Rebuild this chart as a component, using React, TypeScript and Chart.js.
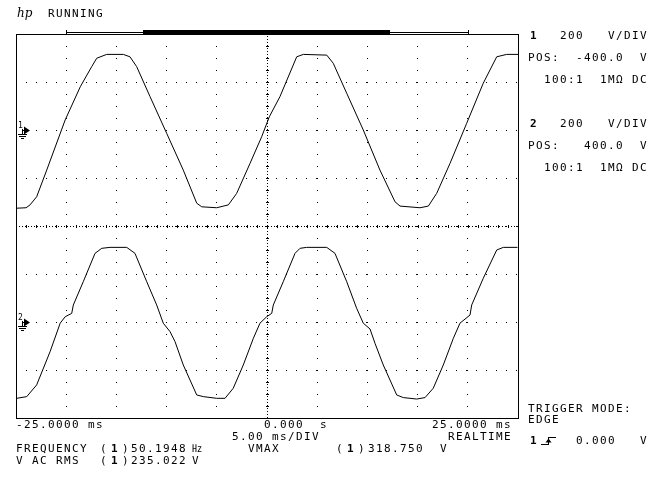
import React, { useEffect, useRef } from 'react';
import { Chart, registerables } from 'chart.js';

Chart.register(...registerables);

// ---- data (time in ms, voltage in V) ----
const ch1TimeMs = [
  -25.0, -24.0, -23.6, -22.94, -21.94, -20.1, -18.6, -17.46, -16.96, -15.97, -14.31, -13.65,
  -12.98, -11.65, -9.99, -8.34, -7.0, -6.5, -5.01, -3.85, -3.02, -1.69, -0.53, 0.23, 1.29,
  2.96, 3.62, 5.95, 6.6, 7.94, 9.59, 11.25, 12.75, 13.25, 15.24, 16.07, 16.9, 18.23, 19.89,
  21.54, 22.88, 23.87, 25.0,
];
const ch1Volts = [
  -326, -324, -312, -278, -167, 42, 180, 264, 299, 315, 315, 305,
  264, 139, -14, -167, -305, -320, -324, -312, -264, -139, -28, 55, 139,
  305, 315, 312, 278, 153, 0, -167, -299, -317, -324, -317, -264, -139, 28,
  195, 305, 315, 315,
];

const ch2TimeMs = [
  -24.93, -23.93, -22.94, -21.61, -20.6, -20.1, -19.45, -19.29, -18.3, -17.13, -16.46, -15.64,
  -13.97, -13.15, -11.98, -10.99, -10.33, -9.66, -9.16, -8.34, -7.0, -6.34, -5.01, -4.18,
  -3.36, -2.36, -1.36, -0.7, -0.03, 0.47, 0.63, 1.62, 2.79, 3.29, 3.95, 5.95, 6.77, 7.94,
  8.93, 9.59, 10.26, 10.76, 11.58, 12.92, 13.58, 14.91, 15.74, 16.56, 17.56, 18.56, 19.22,
  20.22, 20.39, 21.54, 22.88, 23.54, 24.95,
];
const ch2Volts = [
  -318, -311, -262, -124, -5, 22, 36, 71, 168, 286, 307, 311,
  311, 286, 168, 71, -5, -40, -82, -179, -304, -311, -318, -318,
  -276, -179, -68, -5, 22, 36, 71, 168, 286, 307, 311, 311, 286, 168,
  57, -5, -29, -89, -179, -304, -315, -321, -315, -276, -179, -68, -5,
  29, 71, 182, 300, 311, 311,
];

const timeRangeMs = [-25, 25];
const timeStepMs = 5;
const ch1Range = [-1200, 400];
const ch2Range = [-400, 1200];
const voltStep = 200;
const memoryBar = [-20, 20];
const memoryWindow = [-12.4, 12.25];

const timeLabels = ['-25.0000 ms', '0.000', 's', '25.0000 ms'];

const MONO = '"DejaVu Sans Mono", "Liberation Mono", monospace';
const CELL = 8;
const bx = (c: number) => 16 + CELL * c; // bottom text grid
const rx = (c: number) => 528 + CELL * c; // right panel grid

const scopePlugin = {
  id: 'scopeChrome',
  beforeDatasetsDraw(chart: any) {
    const { ctx, chartArea, scales } = chart;
    const x = scales.x;
    const y1 = scales.y1;
    const cx = Math.round(x.getPixelForValue(0)) + 0.5;
    const cy = Math.round(y1.getPixelForValue((ch1Range[0] + ch1Range[1]) / 2)) + 0.5;
    ctx.save();
    ctx.strokeStyle = '#000';
    ctx.fillStyle = '#000';
    ctx.lineWidth = 1;
    ctx.setLineDash([1, 2]);
    ctx.beginPath();
    ctx.moveTo(cx, chartArea.top - 4);
    ctx.lineTo(cx, chartArea.bottom);
    ctx.moveTo(chartArea.left, cy);
    ctx.lineTo(chartArea.right, cy);
    ctx.stroke();
    ctx.setLineDash([]);
    for (let t = timeRangeMs[0]; t <= timeRangeMs[1]; t += 1) {
      const px = Math.round(x.getPixelForValue(t));
      ctx.fillRect(px, Math.round(cy - 0.5) - 1, 1, 3);
    }
    for (let v = ch1Range[0]; v <= ch1Range[1]; v += voltStep / 4) {
      const py = Math.round(y1.getPixelForValue(v));
      ctx.fillRect(Math.round(cx - 0.5) - 1, py, 3, 1);
    }
    // graticule frame
    ctx.strokeRect(
      Math.round(chartArea.left) + 0.5,
      Math.round(chartArea.top) + 0.5,
      Math.round(chartArea.right - chartArea.left),
      Math.round(chartArea.bottom - chartArea.top)
    );
    ctx.restore();
  },
  afterDraw(chart: any) {
    const { ctx, chartArea, scales } = chart;
    const x = scales.x;
    ctx.save();
    ctx.fillStyle = '#000';
    ctx.strokeStyle = '#000';
    ctx.lineWidth = 1;
    // memory bar
    const top = Math.round(chartArea.top);
    const mL = Math.round(x.getPixelForValue(memoryBar[0]));
    const mR = Math.round(x.getPixelForValue(memoryBar[1]));
    ctx.fillRect(mL, top - 2, mR - mL + 1, 1);
    ctx.fillRect(mL, top - 4, 1, 5);
    ctx.fillRect(mR, top - 4, 1, 5);
    const wL = Math.round(x.getPixelForValue(memoryWindow[0]));
    const wR = Math.round(x.getPixelForValue(memoryWindow[1]));
    ctx.fillRect(wL, top - 4, wR - wL, 4);
    // channel ground markers
    const markers: [string, any][] = [
      ['1', scales.y1],
      ['2', scales.y2],
    ];
    const gx = Math.round(chartArea.left);
    markers.forEach(([label, sc]) => {
      const gy = Math.round(sc.getPixelForValue(0));
      ctx.font = '8px ' + MONO;
      ctx.textBaseline = 'alphabetic';
      ctx.fillText(label, gx + 2, gy - 2);
      ctx.fillRect(gx + 6, gy - 1, 1, 5);
      ctx.fillRect(gx + 6, gy, 3, 1);
      ctx.beginPath();
      ctx.moveTo(gx + 8, gy - 3.5);
      ctx.lineTo(gx + 14, gy + 0.5);
      ctx.lineTo(gx + 8, gy + 4.5);
      ctx.closePath();
      ctx.fill();
      ctx.fillRect(gx + 2, gy + 4, 9, 1);
      ctx.fillRect(gx + 3, gy + 6, 7, 1);
      ctx.fillRect(gx + 5, gy + 8, 3, 1);
    });
    // trigger slope symbol
    ctx.fillRect(541, 444, 8, 1);
    ctx.fillRect(548, 437, 1, 8);
    ctx.fillRect(548, 437, 8, 1);
    ctx.beginPath();
    ctx.moveTo(545.5, 442.5);
    ctx.lineTo(548.5, 438.5);
    ctx.lineTo(551.5, 442.5);
    ctx.closePath();
    ctx.fill();
    ctx.restore();
  },
};

type TxtProps = { x: number; y: number; bold?: boolean; size?: number; font?: string; italic?: boolean; spacing?: number; children: React.ReactNode };
function Txt({ x, y, bold, size, font, italic, spacing, children }: TxtProps) {
  return (
    <span
      style={{
        position: 'absolute',
        left: x,
        top: y - 1,
        fontFamily: font || MONO,
        fontSize: size || 11,
        lineHeight: '10px',
        letterSpacing: (spacing === undefined ? 1.38 : spacing) + 'px',
        fontWeight: bold ? 'bold' : 'normal',
        fontStyle: italic ? 'italic' : 'normal',
        whiteSpace: 'pre',
        color: '#000',
      }}
    >
      {children}
    </span>
  );
}

export default function App() {
  const canvasRef = useRef<HTMLCanvasElement | null>(null);

  useEffect(() => {
    const canvas = canvasRef.current;
    if (!canvas) return;
    const chart = new Chart(canvas, {
      type: 'line',
      data: {
        datasets: [
          {
            label: 'Channel 1',
            data: ch1TimeMs.map((t, i) => ({ x: t, y: ch1Volts[i] })),
            yAxisID: 'y1',
            borderColor: '#000',
            borderWidth: 1,
            pointRadius: 0,
            tension: 0,
            fill: false,
          },
          {
            label: 'Channel 2',
            data: ch2TimeMs.map((t, i) => ({ x: t, y: ch2Volts[i] })),
            yAxisID: 'y2',
            borderColor: '#000',
            borderWidth: 1,
            pointRadius: 0,
            tension: 0,
            fill: false,
          },
        ],
      },
      options: {
        animation: false,
        responsive: false,
        devicePixelRatio: 1,
        events: [],
        layout: { padding: { left: 16, top: 34, right: 154, bottom: 78 } },
        plugins: { legend: { display: false }, tooltip: { enabled: false } },
        scales: {
          x: {
            type: 'linear',
            min: timeRangeMs[0],
            max: timeRangeMs[1],
            ticks: { stepSize: timeStepMs, display: false },
            grid: { color: '#000', lineWidth: 1, drawTicks: false },
            border: { display: false, dash: [1, 11] },
          },
          y1: {
            type: 'linear',
            position: 'left',
            min: ch1Range[0],
            max: ch1Range[1],
            ticks: { stepSize: voltStep, display: false },
            grid: { color: '#000', lineWidth: 1, drawTicks: false },
            border: { display: false, dash: [1, 9] },
          },
          y2: {
            type: 'linear',
            display: false,
            min: ch2Range[0],
            max: ch2Range[1],
          },
        },
      } as any,
      plugins: [scopePlugin],
    });
    return () => chart.destroy();
  }, []);

  return (
    <div style={{ position: 'absolute', left: 0, top: 0, width: 672, height: 496, background: '#fff' }}>
      <canvas ref={canvasRef} width={672} height={496} style={{ position: 'absolute', left: 0, top: 0 }} />
      {/* header */}
      <Txt x={17} y={9} size={12} spacing={0} italic font={'"DejaVu Serif", serif'}>hp</Txt>
      <Txt x={48} y={10}>RUNNING</Txt>
      {/* channel 1 setup */}
      <Txt x={rx(0) + 2} y={32} bold>1</Txt>
      <Txt x={rx(4)} y={32}>200</Txt>
      <Txt x={rx(10)} y={32}>V/DIV</Txt>
      <Txt x={rx(0)} y={54}>POS:</Txt>
      <Txt x={rx(6)} y={54}>-400.0</Txt>
      <Txt x={rx(14)} y={54}>V</Txt>
      <Txt x={rx(2)} y={76}>100:1</Txt>
      <Txt x={rx(9)} y={76}>1MΩ</Txt>
      <Txt x={rx(13)} y={76}>DC</Txt>
      {/* channel 2 setup */}
      <Txt x={rx(0) + 2} y={120} bold>2</Txt>
      <Txt x={rx(4)} y={120}>200</Txt>
      <Txt x={rx(10)} y={120}>V/DIV</Txt>
      <Txt x={rx(0)} y={142}>POS:</Txt>
      <Txt x={rx(7)} y={142}>400.0</Txt>
      <Txt x={rx(14)} y={142}>V</Txt>
      <Txt x={rx(2)} y={164}>100:1</Txt>
      <Txt x={rx(9)} y={164}>1MΩ</Txt>
      <Txt x={rx(13)} y={164}>DC</Txt>
      {/* time axis */}
      <Txt x={bx(0)} y={421}>{timeLabels[0]}</Txt>
      <Txt x={bx(31)} y={421}>{timeLabels[1]}</Txt>
      <Txt x={bx(38)} y={421}>{timeLabels[2]}</Txt>
      <Txt x={bx(52)} y={421}>{timeLabels[3]}</Txt>
      <Txt x={bx(27)} y={433}>5.00 ms/DIV</Txt>
      <Txt x={bx(54)} y={433}>REALTIME</Txt>
      {/* measurements */}
      <Txt x={bx(0)} y={445}>FREQUENCY</Txt>
      <Txt x={100} y={445}>(</Txt>
      <Txt x={111} y={445} bold>1</Txt>
      <Txt x={122} y={445}>)</Txt>
      <Txt x={131} y={445}>50.1948</Txt>
      <Txt x={bx(22)} y={444} size={10} spacing={0} font={'"Noto Sans CJK SC", sans-serif'}>㎐</Txt>
      <Txt x={bx(29)} y={445}>VMAX</Txt>
      <Txt x={336} y={445}>(</Txt>
      <Txt x={347} y={445} bold>1</Txt>
      <Txt x={358} y={445}>)</Txt>
      <Txt x={bx(44)} y={445}>318.750</Txt>
      <Txt x={bx(53)} y={445}>V</Txt>
      <Txt x={bx(0)} y={457}>V AC RMS</Txt>
      <Txt x={100} y={457}>(</Txt>
      <Txt x={111} y={457} bold>1</Txt>
      <Txt x={122} y={457}>)</Txt>
      <Txt x={131} y={457}>235.022</Txt>
      <Txt x={bx(22)} y={457}>V</Txt>
      {/* trigger */}
      <Txt x={rx(0)} y={405}>TRIGGER MODE:</Txt>
      <Txt x={rx(0)} y={416}>EDGE</Txt>
      <Txt x={rx(0) + 2} y={437} bold>1</Txt>
      <Txt x={rx(6)} y={437}>0.000</Txt>
      <Txt x={rx(14)} y={437}>V</Txt>
    </div>
  );
}
